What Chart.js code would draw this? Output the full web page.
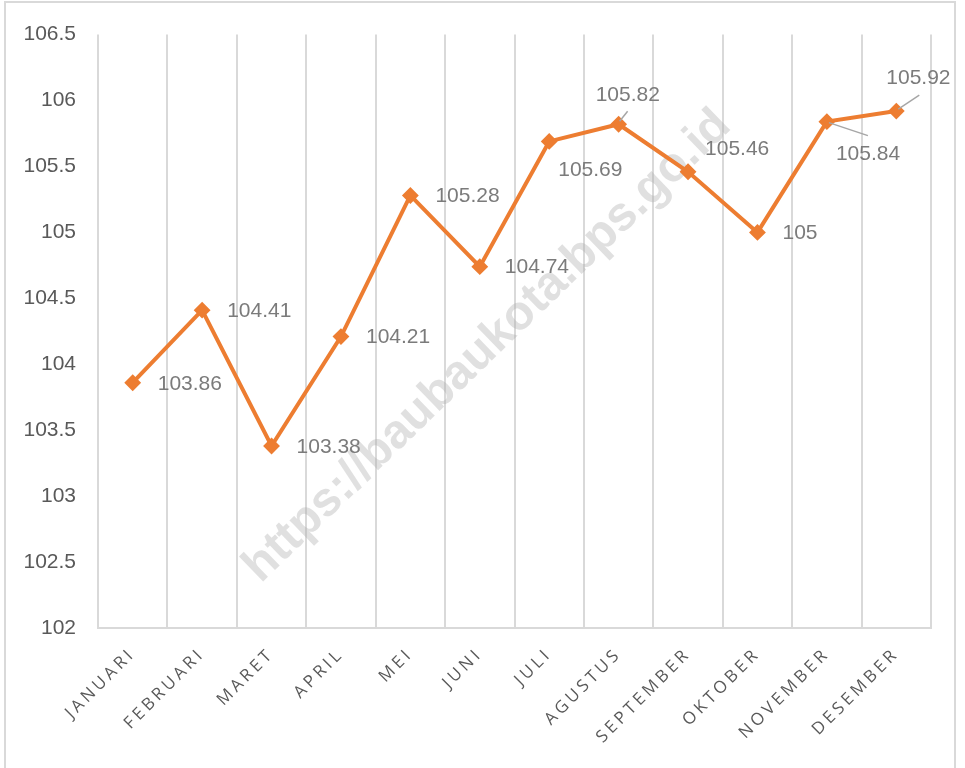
<!DOCTYPE html>
<html><head><meta charset="utf-8">
<script src="https://cdn.jsdelivr.net/npm/chart.js@4/dist/chart.umd.min.js"></script>
<style>html,body{margin:0;padding:0;background:#fff;overflow:hidden}#wrap{position:relative;width:965px;height:768px}</style>
</head><body><div id="wrap"><canvas id="c" width="965" height="768"></canvas></div>
<script>
// ---- data ----
const categories = ["JANUARI","FEBRUARI","MARET","APRIL","MEI","JUNI","JULI","AGUSTUS","SEPTEMBER","OKTOBER","NOVEMBER","DESEMBER"];
const values = [103.86,104.41,103.38,104.21,105.28,104.74,105.69,105.82,105.46,105,105.84,105.92];
const yMin = 102, yMax = 106.5, yStep = 0.5;
const watermarkText = "https://baubaukota.bps.go.id";

// ---- label placement (style) ----
const labelOffsets = [[25,1],[25,1],[25,1],[25,1],[25,1],[25,1],[9,29],[-23,-29],[17,-23],[25,1],[9,33],[-10,-33]];
const leaderLines = [null,null,null,null,null,null,null,[1,-3,9,-13],null,null,[2,1,41,14],[2,-2,23,-16]];

const bgPlugin = {
  id:'bg',
  beforeDraw(chart){
    const ctx=chart.ctx; ctx.save();
    ctx.fillStyle='#fff'; ctx.fillRect(0,0,chart.width,chart.height);
    ctx.strokeStyle='#d9d9d9'; ctx.lineWidth=2; ctx.strokeRect(5,2,950,900);
    ctx.restore();
    const s=chart.scales.x;
    if(s && !s._lsWrapped){
      const orig=s.drawLabels.bind(s);
      s.drawLabels=function(a){ chart.ctx.save(); chart.ctx.letterSpacing='3.5px'; orig(a); chart.ctx.restore(); };
      s._lsWrapped=true;
    }
  }
};
const watermarkPlugin = {
  id:'wm',
  beforeDatasetsDraw(chart){
    const a=chart.chartArea, ctx=chart.ctx;
    ctx.save();
    ctx.translate((a.left+a.right)/2-27,(a.top+a.bottom)/2+15);
    ctx.rotate(-44*Math.PI/180);
    ctx.font='bold 48px "Liberation Sans", Arial, sans-serif';
    ctx.fillStyle='rgba(170,170,170,0.36)';
    ctx.textAlign='center'; ctx.textBaseline='middle';
    ctx.fillText(watermarkText,0,0);
    ctx.restore();
  }
};
const labelPlugin = {
  id:'vl',
  afterDatasetsDraw(chart){
    const ctx=chart.ctx, meta=chart.getDatasetMeta(0);
    ctx.save();
    ctx.font='21px "Liberation Sans", Arial, sans-serif';
    ctx.fillStyle='#7b7b7b'; ctx.textAlign='left'; ctx.textBaseline='middle';
    meta.data.forEach((pt,i)=>{
      const L=leaderLines[i];
      if(L){ ctx.beginPath(); ctx.strokeStyle='#a6a6a6'; ctx.lineWidth=1.5;
        ctx.moveTo(pt.x+L[0],pt.y+L[1]); ctx.lineTo(pt.x+L[2],pt.y+L[3]); ctx.stroke(); }
      const o=labelOffsets[i];
      ctx.fillText(String(values[i]),pt.x+o[0],pt.y+o[1]);
    });
    ctx.restore();
  }
};

new Chart(document.getElementById('c'),{
  type:'line',
  data:{labels:categories,datasets:[{
    data:values,borderColor:'#ed7d31',backgroundColor:'#ed7d31',borderWidth:4,
    pointStyle:'rectRot',pointRadius:7,pointHoverRadius:7,pointBorderWidth:2,
    pointBackgroundColor:'#ed7d31',pointBorderColor:'#ed7d31',tension:0,clip:false
  }]},
  options:{
    responsive:false,animation:false,devicePixelRatio:1,locale:'en-US',
    layout:{padding:{left:0,right:34,top:28,bottom:0}},
    plugins:{legend:{display:false},tooltip:{enabled:false}},
    scales:{
      x:{offset:true,
        grid:{display:true,offset:true,color:'#d9d9d9',lineWidth:2,drawTicks:false},
        border:{display:true,color:'#d9d9d9',width:2},
        ticks:{minRotation:45,maxRotation:45,autoSkip:false,padding:16,color:'#595959',
          font:{family:'"Open Sans", "Liberation Sans", sans-serif',size:17}},
        afterFit(s){s.height=140;}
      },
      y:{min:yMin,max:yMax,
        grid:{display:false,drawTicks:false},border:{display:false},
        ticks:{stepSize:yStep,padding:22,color:'#595959',
          callback:v=>String(Number(v.toFixed(1))),
          font:{family:'"Liberation Sans", Arial, sans-serif',size:21}},
        afterFit(s){s.width=98;}
      }
    }
  },
  plugins:[bgPlugin,watermarkPlugin,labelPlugin]
});
</script></body></html>
